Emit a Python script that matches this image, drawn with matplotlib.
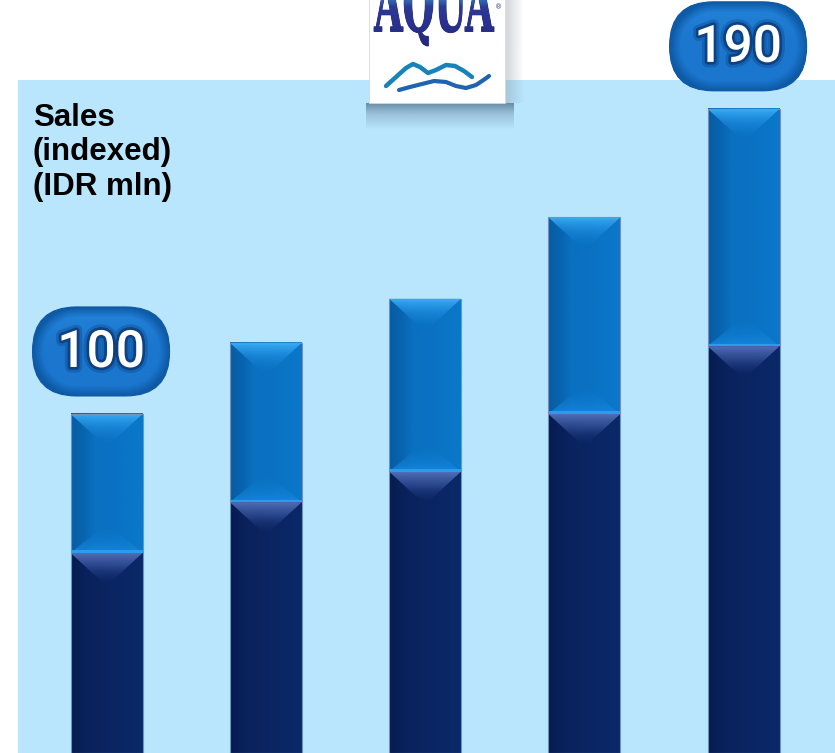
import numpy as np
import matplotlib
matplotlib.use("Agg")
import matplotlib.pyplot as plt
from matplotlib.patches import Polygon, Rectangle, FancyBboxPatch, PathPatch
from matplotlib.textpath import TextPath
from matplotlib.font_manager import FontProperties
from matplotlib.transforms import Affine2D
from matplotlib.colors import to_rgba
import matplotlib.patheffects as pe

# ---- data: sales index, split into two stacked components ----
totals = [100, 121, 134, 158, 190]
lower = [59, 74, 83, 100, 120]
upper = [t - l for t, l in zip(totals, lower)]
labelled = [0, 4]
title_lines = ["Sales", "(indexed)", "(IDR mln)"]
brand = "AQUA"

W, H = 835, 753
DPI = 100

BG = "#B9E5FD"
NAVY = "#0A2562"
BLUE = "#0A70C0"


def ramp(stops, n=128):
    pos = [s[0] for s in stops]
    cols = np.array([to_rgba(s[1], s[2] if len(s) > 2 else 1.0) for s in stops])
    t = np.linspace(0, 1, n)
    return np.stack([np.interp(t, pos, cols[:, k]) for k in range(4)], axis=-1)


def hgrad(ax, extent, stops, zorder, clip=None):
    im = ax.imshow(ramp(stops)[None, :, :], extent=extent, aspect="auto",
                   origin="lower", interpolation="bilinear", zorder=zorder)
    if clip is not None:
        im.set_clip_path(clip)
    return im


def vgrad(ax, extent, stops, zorder, clip=None):
    im = ax.imshow(ramp(stops)[:, None, :], extent=extent, aspect="auto",
                   origin="lower", interpolation="bilinear", zorder=zorder)
    if clip is not None:
        im.set_clip_path(clip)
    return im


fig = plt.figure(figsize=(W / DPI, H / DPI), dpi=DPI, facecolor="white")

# ---- main plotting area (light blue panel) ----
ax = fig.add_axes([18 / W, 0, (W - 18) / W, (H - 80) / H])
ax.set_facecolor(BG)
for s in ax.spines.values():
    s.set_visible(False)
ax.set_xticks([])
ax.set_yticks([])
XLIM = (-0.556, 4.574)
YLIM = (0, 198.5)
ax.set_xlim(*XLIM)
ax.set_ylim(*YLIM)

x = np.arange(len(totals))
bw = 0.452
bars_lo = ax.bar(x, lower, width=bw, color=NAVY, linewidth=0, zorder=2)
bars_hi = ax.bar(x, upper, bottom=lower, width=bw, color=BLUE, linewidth=0, zorder=2)

p0 = ax.transData.transform((0, 0))
p1 = ax.transData.transform((1, 1))
px_x, px_y = p1 - p0          # pixels per data unit
dy = lambda px: px / px_y     # pixel distance -> data units (vertical)

for plo, phi in zip(bars_lo, bars_hi):
    x0, w = plo.get_x(), plo.get_width()
    y0, h0 = plo.get_y(), plo.get_height()
    y1, h1 = phi.get_y(), phi.get_height()
    xc = x0 + w / 2
    depth = dy(w * px_x / 2 * 0.92)

    # bodies with horizontal shading
    hgrad(ax, [x0, x0 + w, y0, y0 + h0],
          [(0, "#061C50"), (0.25, "#0A235E"), (1, "#0B2868")], 2.1)
    hgrad(ax, [x0, x0 + w, y1, y1 + h1],
          [(0, "#075CA3"), (0.2, "#0866B2"), (0.32, "#0A70C0"),
           (0.6, "#0A72C3"), (1, "#0A78C9")], 2.1)

    # bevel on top of the upper segment
    top = y1 + h1
    tri = Polygon([(x0, top), (x0 + w, top), (xc, top - depth)], closed=True,
                  transform=ax.transData)
    vgrad(ax, [x0, x0 + w, top - depth, top],
          [(0, "#0A72C2", 0.0), (0.55, "#2290E2", 0.55), (0.92, "#36A8F3", 0.95),
           (1, "#52C2FF", 1.0)], 2.2, clip=tri)

    # lighter bevel rising from the bottom of the upper segment
    tri2 = Polygon([(x0, y1), (x0 + w, y1), (xc, y1 + depth * 0.9)], closed=True,
                   transform=ax.transData)
    vgrad(ax, [x0, x0 + w, y1, y1 + depth * 0.9],
          [(0, "#1688DE", 0.9), (1, "#0A74C4", 0.0)], 2.2, clip=tri2)
    ax.add_patch(Rectangle((x0, y1), w, dy(2.5), facecolor="#2B9BEE",
                           edgecolor="none", zorder=2.3))

    # bevel on top of the navy segment
    ltop = y0 + h0
    tri3 = Polygon([(x0, ltop), (x0 + w, ltop), (xc, ltop - depth)], closed=True,
                   transform=ax.transData)
    vgrad(ax, [x0, x0 + w, ltop - depth, ltop],
          [(0, NAVY, 0.0), (0.6, "#3A56A0", 0.7), (1, "#5573B9", 1.0)], 2.2, clip=tri3)

    # thin outline
    ax.add_patch(Rectangle((x0, y0), w, h0 + h1, facecolor="none",
                           edgecolor="#6F93BD", linewidth=0.8, zorder=2.5))

ax.set_xlim(*XLIM)
ax.set_ylim(*YLIM)

# ---- overlay in figure pixels (logo, labels, title) ----
ov = fig.add_axes([0, 0, 1, 1], zorder=5)
ov.set_xlim(0, W)
ov.set_ylim(0, H)
ov.axis("off")
Y = lambda yd: H - yd

# logo shadow
vgrad(ov, [366, 514, Y(130), Y(103)],
      [(0, "#5A7C96", 0.0), (0.55, "#5A7C96", 0.3), (1, "#46667F", 0.7)], 1)
hgrad(ov, [505, 524, Y(103), Y(0)],
      [(0, "#8A96A0", 0.4), (1, "#8A96A0", 0.0)], 1)

# logo card
ov.add_patch(Rectangle((369, Y(103)), 136, 110, facecolor="white",
                       edgecolor="#D5D9DD", linewidth=0.6, zorder=2))

# brand lettering (top cut by the page edge)
fp = FontProperties(family="DejaVu Serif", weight="bold")
tp = TextPath((0, 0), brand, size=100, prop=fp)
bb = tp.get_extents()
sx = 120 / bb.width
sy = 74 / bb.height
tr = Affine2D().translate(-bb.x0, -bb.y0).scale(sx, sy).translate(374, Y(46)) + ov.transData
letters = PathPatch(tp, transform=tr, facecolor="#2A3490", edgecolor="#1E2470",
                    linewidth=0.6, zorder=3)
ov.add_patch(letters)
vgrad(ov, [374, 494, Y(46), Y(-28)],
      [(0, "#22287A"), (0.3, "#2A3190"), (0.52, "#2C3A98"), (0.6, "#2F6AB0"),
       (1, "#2C86BE")], 3.1, clip=letters)
ov.text(499, Y(7), "®", fontsize=5, color="#2A3490", ha="center", va="center", zorder=4)

# waves under the lettering
wave1 = np.array([(386, 86), (396, 77), (406, 68), (413, 64), (420, 67), (428, 73),
                  (436, 70), (446, 65), (455, 66), (464, 71), (472, 77)])
wave2 = np.array([(399, 90), (410, 87), (422, 84), (434, 81), (446, 82), (456, 86),
                  (466, 88), (476, 85), (485, 79), (489, 76)])
ov.plot(wave1[:, 0], H - wave1[:, 1], color="#1684BA", lw=3.2,
        solid_capstyle="round", solid_joinstyle="round", zorder=3)
ov.plot(wave2[:, 0], H - wave2[:, 1], color="#1F64AE", lw=3.0,
        solid_capstyle="round", solid_joinstyle="round", zorder=3)

# value pills above first and last bars
pw, ph = 137, 89
for i in labelled:
    bx, by = ax.transData.transform((x[i], totals[i]))
    px0 = bx - 5.5 - pw / 2
    py0 = by + 18
    pill = FancyBboxPatch((px0, py0), pw, ph,
                          boxstyle="round,pad=0,rounding_size=44",
                          facecolor="#1670C6", edgecolor="#1058A2", linewidth=0.8,
                          transform=ov.transData, zorder=3)
    ov.add_patch(pill)
    # shaded fill: slightly darker towards the rim, brighter at the top centre
    gx, gy = np.meshgrid(np.linspace(0, pw, 140), np.linspace(0, ph, 90))
    r = ph / 2
    cxs = np.clip(gx, r, pw - r)
    dist = np.hypot(gx - cxs, gy - r)
    e = np.clip((r - dist) / 10, 0, 1)
    top = np.clip((gy - ph * 0.55) / (ph * 0.45), 0, 1)
    c_edge = np.array(to_rgba("#0E5AA6"))
    c_mid = np.array(to_rgba("#1B76CE"))
    c_top = np.array(to_rgba("#2586DC"))
    img = c_edge + (c_mid - c_edge) * e[..., None]
    img = img + (c_top - c_mid) * (top * e)[..., None] * 0.8
    img[..., 3] = 1
    im = ov.imshow(img, extent=[px0, px0 + pw, py0, py0 + ph], origin="lower",
                   aspect="auto", interpolation="bilinear", zorder=3.1)
    im.set_clip_path(pill)
    ov.text(px0 + pw / 2, py0 + 29, str(totals[i]), ha="center", va="baseline",
            fontsize=37, fontweight="medium", family="Roboto", color="white", zorder=4,
            path_effects=[pe.withStroke(linewidth=8, foreground="#0A3A78", alpha=0.3),
                          pe.withStroke(linewidth=4, foreground="#0A3A78", alpha=0.8)])

# axis caption
for yd, line in zip([125.5, 160, 195], title_lines):
    ov.text(33, Y(yd), line, ha="left", va="baseline", fontsize=22.5,
            fontweight="bold", family="Liberation Sans", color="black", zorder=4)

fig.savefig("out.png", dpi=DPI, facecolor="white")
